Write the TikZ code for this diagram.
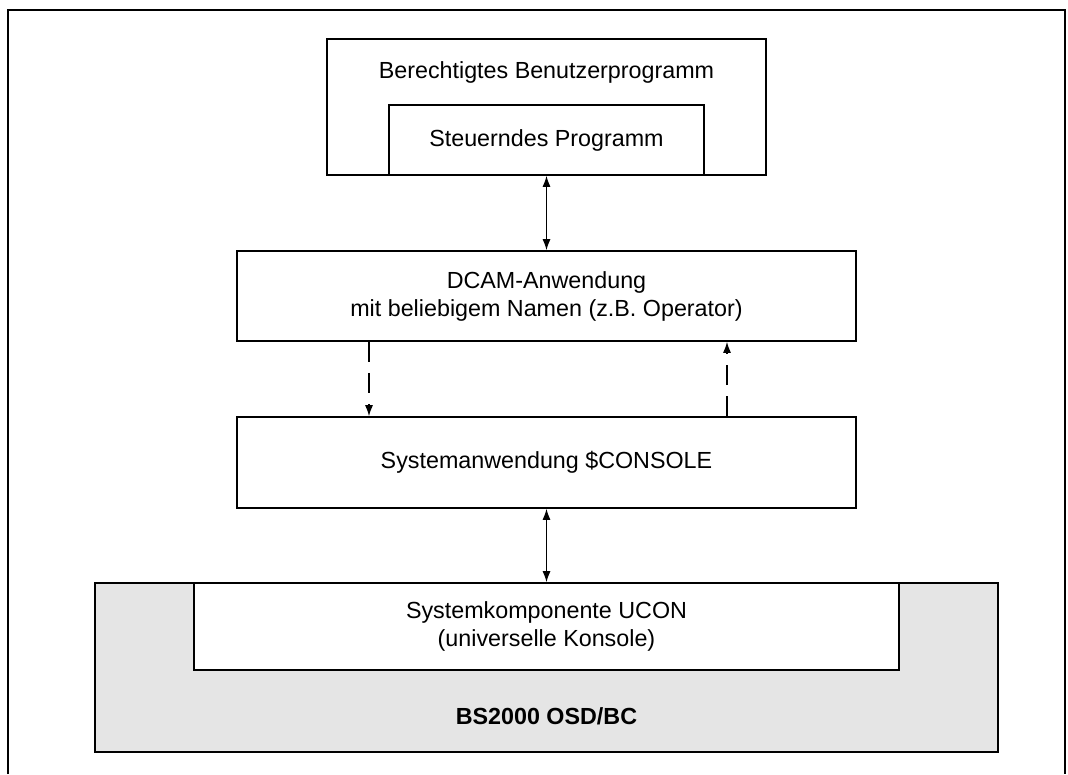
\documentclass[tikz,border=0pt]{standalone}
\usepackage{fontspec}
\setmainfont{Liberation Sans}
\usetikzlibrary{arrows.meta}
\definecolor{osgray}{RGB}{229,229,229}
\begin{document}
\begin{tikzpicture}[x=1pt,y=-1pt,
  box/.style={draw, line width=1.6pt, rectangle, inner sep=0pt},
  lbl/.style={font=\fontsize{23.3}{28}\selectfont, align=center, inner sep=0pt},
  arr/.style={line width=1.3pt, {Latex[length=11pt,width=8pt]}-{Latex[length=11pt,width=8pt]}},
  darr/.style={line width=1.3pt, dash pattern=on 20pt off 11pt, -{Latex[length=11pt,width=8pt]}}]
\useasboundingbox (0,0) rectangle (1068,774);
\draw[line width=2pt] (7.5,774) -- (7.5,9.5) -- (1065,9.5) -- (1065,774);
% top boxes
\node[box, minimum width=439pt, minimum height=136pt] (bp) at (546.5,107) {};
\node[lbl] (bpt) at (546.5,72) {Berechtigtes Benutzerprogramm};
\node[box, minimum width=315pt, minimum height=70pt] (sp) at (546.5,140) {};
\node[lbl] (spt) at (546.5,140) {Steuerndes Programm};
% DCAM
\node[box, minimum width=619pt, minimum height=90pt] (dc) at (546.5,296) {};
\node[lbl] (dct) at (546.5,296) {DCAM-Anwendung\\mit beliebigem Namen (z.B. Operator)};
% System
\node[box, minimum width=619pt, minimum height=91pt] (sy) at (546.5,462.5) {};
\node[lbl] (syt) at (546.5,462.5) {Systemanwendung \$CONSOLE};
% OS
\node[box, fill=osgray, minimum width=903pt, minimum height=169pt] (os) at (546.5,667.5) {};
\node[box, fill=white, minimum width=705pt, minimum height=87pt] (uc) at (546.5,626.5) {};
\node[lbl] (uct) at (546.5,626.5) {Systemkomponente UCON\\(universelle Konsole)};
\node[lbl, font=\fontsize{23.3}{28}\selectfont\bfseries] (ost) at (546.5,716) {BS2000 OSD/BC};
% connectors
\coordinate (lx) at (369,0);
\coordinate (rx) at (727,0);
\draw[arr] (sp.south) -- (dc.north);
\draw[darr] (dc.south -| lx) -- (sy.north -| lx);
\draw[darr] (sy.north -| rx) -- (dc.south -| rx);
\draw[arr] (sy.south) -- (uc.north);
\end{tikzpicture}
\end{document}
